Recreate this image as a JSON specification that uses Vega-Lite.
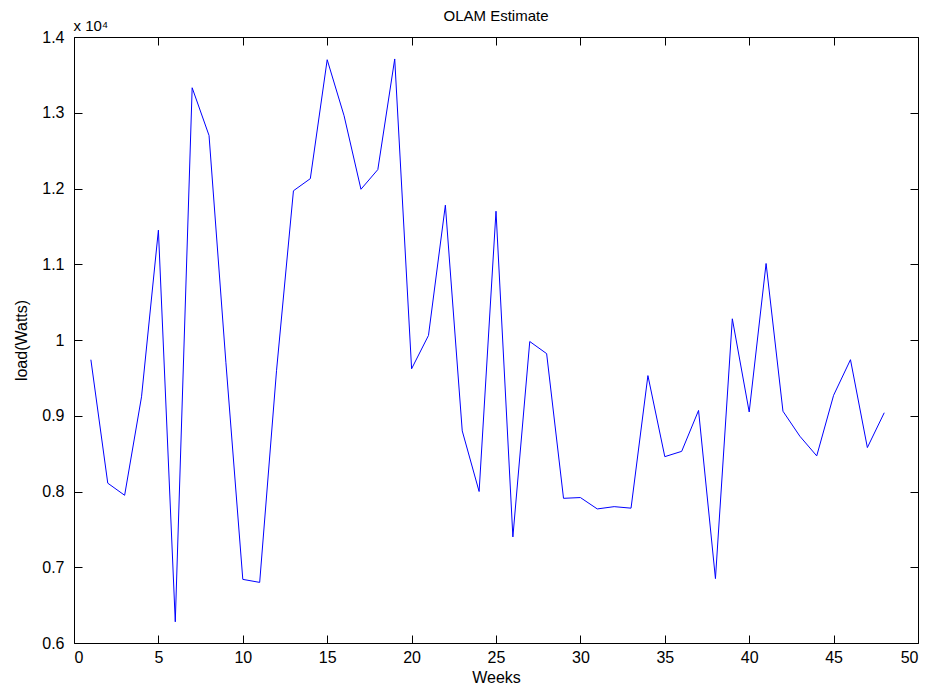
{
  "$schema": "https://vega.github.io/schema/vega-lite/v6.json",
  "width": 844,
  "height": 606,
  "autosize": {"type": "none"},
  "padding": {"left": 74, "top": 37, "right": 21, "bottom": 49},
  "background": "white",
  "title": {"text": "OLAM Estimate", "fontSize": 15, "fontWeight": "normal", "font": "Liberation Sans", "color": "black", "offset": -6},
  "config": {
    "view": {"stroke": "black", "strokeWidth": 1},
    "axis": {
      "grid": false,
      "domain": false,
      "tickColor": "black",
      "tickSize": -8,
      "labelFont": "Liberation Sans",
      "labelFontSize": 16,
      "labelColor": "black",
      "titleFont": "Liberation Sans",
      "titleFontSize": 16,
      "titleFontWeight": "normal",
      "titleColor": "black"
    }
  },
  "data": {
    "values": [
      {"week": 1, "load": 9740}, {"week": 2, "load": 8110}, {"week": 3, "load": 7950},
      {"week": 4, "load": 9250}, {"week": 5, "load": 11450}, {"week": 6, "load": 6280},
      {"week": 7, "load": 13330}, {"week": 8, "load": 12700}, {"week": 9, "load": 9700},
      {"week": 10, "load": 6840}, {"week": 11, "load": 6800}, {"week": 12, "load": 9600},
      {"week": 13, "load": 11970}, {"week": 14, "load": 12130}, {"week": 15, "load": 13700},
      {"week": 16, "load": 12960}, {"week": 17, "load": 11990}, {"week": 18, "load": 12250},
      {"week": 19, "load": 13710}, {"week": 20, "load": 9620}, {"week": 21, "load": 10060},
      {"week": 22, "load": 11780}, {"week": 23, "load": 8800}, {"week": 24, "load": 8000},
      {"week": 25, "load": 11700}, {"week": 26, "load": 7400}, {"week": 27, "load": 9980},
      {"week": 28, "load": 9820}, {"week": 29, "load": 7910}, {"week": 30, "load": 7920},
      {"week": 31, "load": 7770}, {"week": 32, "load": 7800}, {"week": 33, "load": 7780},
      {"week": 34, "load": 9530}, {"week": 35, "load": 8460}, {"week": 36, "load": 8530},
      {"week": 37, "load": 9070}, {"week": 38, "load": 6850}, {"week": 39, "load": 10280},
      {"week": 40, "load": 9050}, {"week": 41, "load": 11010}, {"week": 42, "load": 9060},
      {"week": 43, "load": 8730}, {"week": 44, "load": 8470}, {"week": 45, "load": 9270},
      {"week": 46, "load": 9740}, {"week": 47, "load": 8580}, {"week": 48, "load": 9040}
    ]
  },
  "layer": [
    {
      "mark": {"type": "line", "color": "#0000ff", "strokeWidth": 1},
      "encoding": {
        "x": {
          "field": "week", "type": "quantitative",
          "scale": {"domain": [0, 50], "nice": false},
          "axis": {"values": [0, 5, 10, 15, 20, 25, 30, 35, 40, 45, 50], "title": "Weeks", "labelPadding": 14, "titlePadding": 4}
        },
        "y": {
          "field": "load", "type": "quantitative",
          "scale": {"domain": [6000, 14000], "nice": false, "zero": false},
          "axis": {
            "values": [6000, 7000, 8000, 9000, 10000, 11000, 12000, 13000, 14000],
            "labelExpr": "datum.value === 10000 ? '1' : format(datum.value / 10000, '.1f')",
            "title": "load(Watts)", "labelPadding": 18, "titlePadding": 12
          }
        }
      }
    },
    {
      "mark": {"type": "line", "opacity": 0},
      "encoding": {
        "x": {
          "field": "week", "type": "quantitative",
          "axis": {"orient": "top", "values": [0, 5, 10, 15, 20, 25, 30, 35, 40, 45, 50], "labels": false, "title": null}
        },
        "y": {
          "field": "load", "type": "quantitative",
          "axis": {"orient": "right", "values": [6000, 7000, 8000, 9000, 10000, 11000, 12000, 13000, 14000], "labels": false,
                   "title": "x 10⁴", "titleFontSize": 15, "titleAngle": 0, "titleAlign": "left", "titleBaseline": "alphabetic", "titleX": -845, "titleY": -7}
        }
      }
    }
  ],
  "resolve": {"axis": {"x": "independent", "y": "independent"}}
}
